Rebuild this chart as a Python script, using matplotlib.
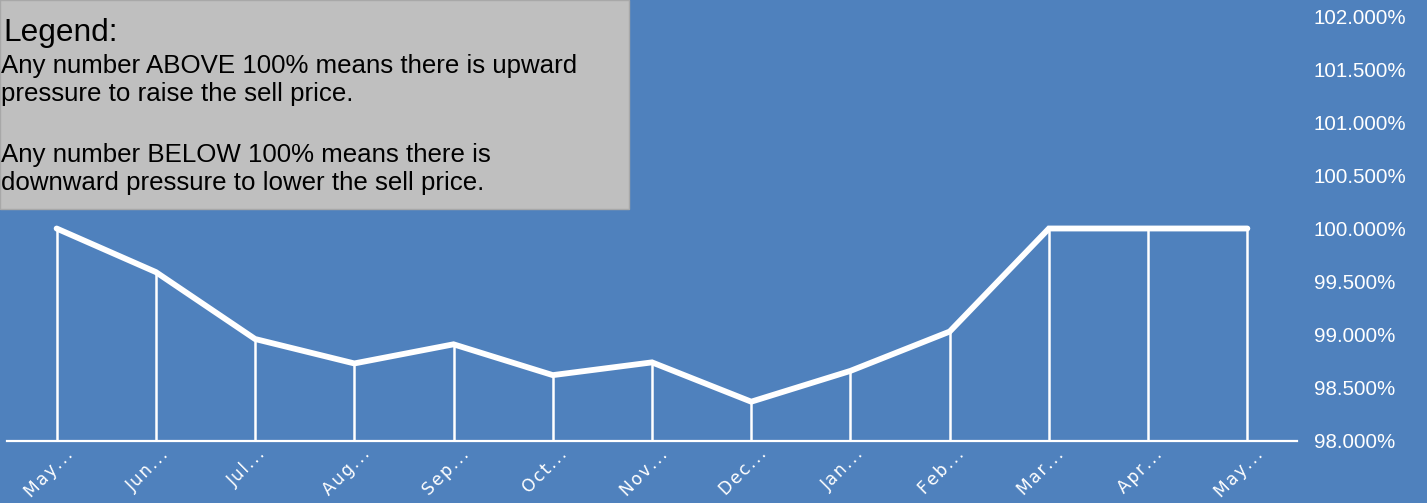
import matplotlib
matplotlib.use("Agg")
import matplotlib.pyplot as plt
from matplotlib.patches import Rectangle
from matplotlib.ticker import FuncFormatter
from matplotlib.transforms import ScaledTranslation

months = ["May…", "Jun…", "Jul…", "Aug…", "Sep…", "Oct…", "Nov…",
          "Dec…", "Jan…", "Feb…", "Mar…", "Apr…", "May…"]
ratio = [100.0, 99.59, 98.96, 98.73, 98.91, 98.62, 98.74,
         98.37, 98.66, 99.03, 100.0, 100.0, 100.0]
y_ticks = [98.0, 98.5, 99.0, 99.5, 100.0, 100.5, 101.0, 101.5, 102.0]

legend_title = "Legend:"
legend_lines = [
    "Any number ABOVE 100% means there is upward",
    "pressure to raise the sell price.",
    "",
    "Any number BELOW 100% means there is",
    "downward pressure to lower the sell price.",
]

bg = "#4f81bd"
W, H = 1427, 503

fig = plt.figure(figsize=(W / 100, H / 100), dpi=100, facecolor=bg)
ax = fig.add_axes([7 / W, 1 - 441 / H, (1297 - 7) / W, (441 - 16) / H])
ax.set_facecolor(bg)

x = list(range(len(months)))
ax.vlines(x, 98.0, ratio, color="white", lw=1.8, zorder=2)
ax.plot(x, ratio, color="white", lw=4.2, solid_capstyle="round",
        solid_joinstyle="miter", zorder=3)

ax.set_xlim(-0.5, len(months) - 0.5)
ax.set_ylim(98.0, 102.0)

for s in ["top", "left", "right"]:
    ax.spines[s].set_visible(False)
ax.spines["bottom"].set_color("white")
ax.spines["bottom"].set_linewidth(1.6)

ax.yaxis.tick_right()
ax.set_yticks(y_ticks)
ax.yaxis.set_major_formatter(FuncFormatter(lambda v, p: f"{v:.3f}%"))
ax.tick_params(axis="y", length=0, pad=12, labelcolor="white", labelsize=14.8)
for lab in ax.get_yticklabels():
    lab.set_family("Liberation Sans")

# spaced-out month labels
spaced = ["\u200a".join(m[:-1]) + "\u200a" + "\u200a".join("...") for m in months]
ax.set_xticks(x)
ax.set_xticklabels(spaced, rotation=45, ha="center", fontsize=12.3,
                   color="white", family="DejaVu Sans")
ax.tick_params(axis="x", length=0, pad=3)
shift = ScaledTranslation(-8 / 100, 0, fig.dpi_scale_trans)
for lab in ax.get_xticklabels():
    lab.set_transform(lab.get_transform() + shift)

# legend box
fig.patches.append(Rectangle((0, 1 - 209 / H), 629 / W, 209 / H,
                             transform=fig.transFigure, facecolor="#bfbfbf",
                             edgecolor="#a8a8a8", lw=1, zorder=5))
fig.text(3 / W, 1 - 41 / H, legend_title, fontsize=22.8, family="Liberation Sans",
         va="baseline", ha="left", zorder=6)
line_y = [73, 101.5, 131, 162, 190]
for t, yy in zip(legend_lines, line_y):
    if t:
        fig.text(1 / W, 1 - yy / H, t, fontsize=18.6, family="Liberation Sans",
                 va="baseline", ha="left", zorder=6)

fig.savefig("out.png", dpi=100, facecolor=bg)
